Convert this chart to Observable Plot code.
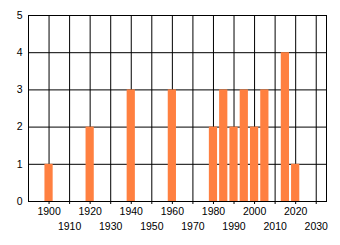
<!DOCTYPE html>
<html><head><meta charset="utf-8">
<script src="https://cdn.jsdelivr.net/npm/d3@7"></script>
<script src="https://cdn.jsdelivr.net/npm/@observablehq/plot@0.6"></script>
<style>body{margin:0;background:#fff}</style>
</head><body><div id="chart"></div>
<script>
const years = [1900, 1920, 1940, 1960, 1980, 1985, 1990, 1995, 2000, 2005, 2015, 2020];
const counts = [1, 2, 3, 3, 2, 3, 2, 3, 2, 3, 4, 1];
const evenTicks = [1900, 1920, 1940, 1960, 1980, 2000, 2020];
const oddTicks = [1910, 1930, 1950, 1970, 1990, 2010, 2030];
const yTicks = [0, 1, 2, 3, 4, 5];

const data = years.map((y, i) => ({year: y, count: counts[i]}));
const halfWidth = 2;
const allTicks = evenTicks.concat(oddTicks).sort((a, b) => a - b);

const chart = Plot.plot({
  width: 340, height: 245,
  marginLeft: 28, marginTop: 15, marginRight: 14, marginBottom: 44,
  style: {fontFamily: "'Liberation Sans', Arial, sans-serif", fontSize: "10.5px", color: "#000", background: "#fff"},
  x: {domain: [1890, 2035]},
  y: {domain: [0, 5]},
  marks: [
    Plot.ruleX(allTicks, {stroke: "#000", strokeWidth: 1}),
    Plot.ruleY(yTicks, {stroke: "#000", strokeWidth: 1}),
    Plot.rectY(data, {x1: d => d.year - halfWidth, x2: d => d.year + halfWidth, y: "count", fill: "#ff8040"}),
    Plot.frame({stroke: "#000"}),
    Plot.axisY({ticks: yTicks, tickSize: 0, tickPadding: 6, tickFormat: d3.format("d"), label: null}),
    Plot.axisX({ticks: evenTicks, tickSize: 3, tickPadding: 3, tickFormat: d3.format("d"), label: null}),
    Plot.axisX({ticks: oddTicks, tickSize: 3, tickPadding: 18, tickFormat: d3.format("d"), label: null})
  ]
});
document.getElementById("chart").append(chart);
</script></body></html>
